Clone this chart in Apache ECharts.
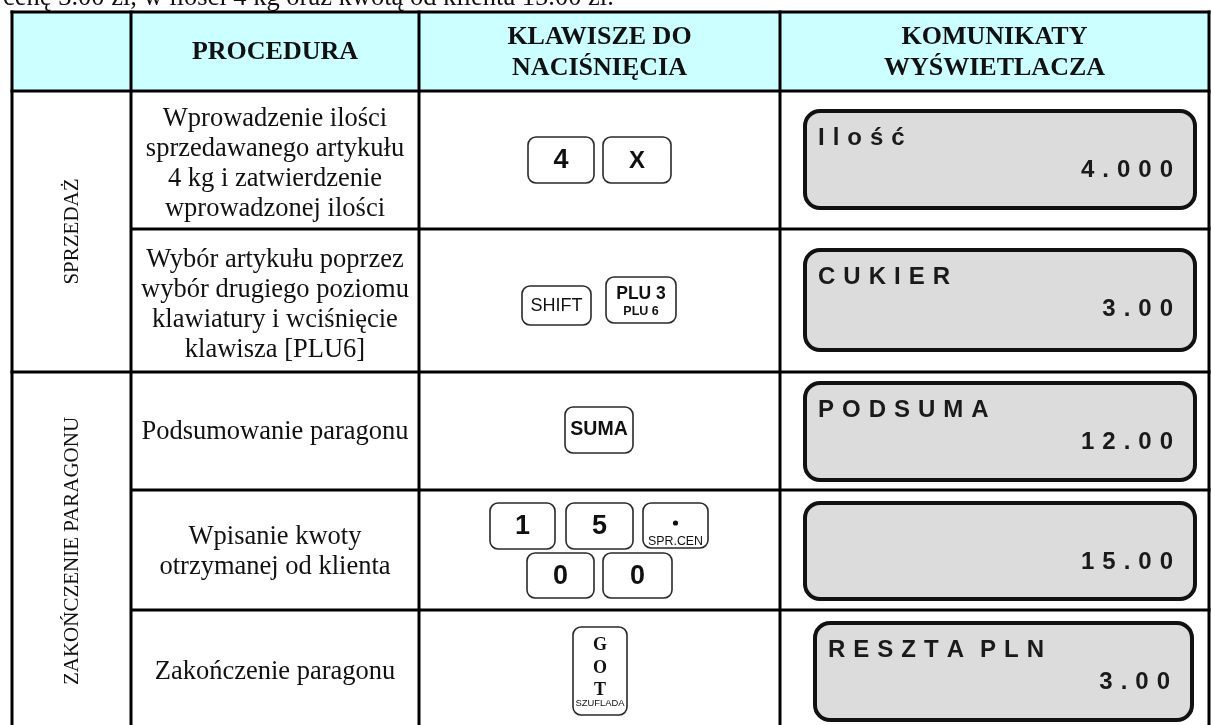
<!DOCTYPE html>
<html><head><meta charset="utf-8">
<script src="https://cdn.jsdelivr.net/npm/echarts@6/dist/echarts.min.js"></script>
<style>html,body{margin:0;padding:0;background:#fff}#c{width:1211px;height:725px}</style>
</head><body><div id="c"></div>
<script>
// ---------- data ----------
const introText = 'cenę 3.00 zł, w ilości 4 kg oraz kwotą od klienta 15.00 zł.';
const headers = ['', 'PROCEDURA', 'KLAWISZE DO\nNACIŚNIĘCIA', 'KOMUNIKATY\nWYŚWIETLACZA'];
const sections = ['SPRZEDAŻ', 'ZAKOŃCZENIE PARAGONU'];
const sectionRowCounts = [2, 3];
const procedures = [
  'Wprowadzenie ilości\nsprzedawanego artykułu\n4 kg i zatwierdzenie\nwprowadzonej ilości',
  'Wybór artykułu poprzez\nwybór drugiego poziomu\nklawiatury i wciśnięcie\nklawisza [PLU6]',
  'Podsumowanie paragonu',
  'Wpisanie kwoty\notrzymanej od klienta',
  'Zakończenie paragonu'
];
const keyLabels = [['4', 'X'], ['SHIFT', 'PLU 3'], ['SUMA'], ['1', '5', '.', '0', '0'], ['G\nO\nT']];
const keySubLabels = [['', ''], ['', 'PLU 6'], [''], ['', '', 'SPR.CEN', '', ''], ['SZUFLADA']];
const displayLabels = ['Ilość', 'CUKIER', 'PODSUMA', '', 'RESZTA PLN'];
const displayValues = ['4.000', '3.00', '12.00', '15.00', '3.00'];

// ---------- layout (pixel space of the identity axes) ----------
const W = 1211, H = 725;
const layout = {
  colX: [12, 131, 419, 780, 1209],
  headerY: [12, 91],
  rowY: [91, 229, 372, 490, 610, 730],
  procTextY: [164, 305, 432, 552, 672],
  keyBoxes: [
    [[528, 137, 66, 46], [603, 137, 68, 46]],
    [[522, 286, 69, 39], [606, 277, 70, 46]],
    [[565, 407, 68, 46]],
    [[490, 503, 65, 46], [566, 503, 67, 46], [643, 503, 65, 45], [527, 553, 67, 45], [603, 553, 69, 45]],
    [[573, 627, 54, 88]]
  ],
  displayBoxes: [[805, 111, 390, 97], [805, 250, 390, 100], [805, 383, 390, 97], [805, 503, 390, 96], [815, 623, 377, 97]]
};
const SERIF = '"Liberation Serif","Times New Roman",serif';
const SANS = '"Liberation Sans",Arial,sans-serif';
const INK = '#111';

function spaced(s) {
  return s.split('').map(c => c === ' ' ? '' : c).join('\u2004');
}

function txt(p, text, o) {
  return {
    type: 'text', x: p[0], y: p[1], rotation: o.rotation || 0, silent: true,
    style: {
      text: text, fill: o.fill || INK, fontFamily: o.family || SERIF,
      fontSize: o.size, fontWeight: o.weight || 'normal',
      align: o.align || 'center', verticalAlign: o.valign || 'middle',
      lineHeight: o.lineHeight || Math.round(o.size * 1.15)
    }
  };
}

function renderTable(params, api) {
  const P = (x, y) => api.coord([x, y]);
  const ch = [];
  const cx = layout.colX, ry = layout.rowY, hy = layout.headerY;
  // intro line (cut off at top)
  ch.push(txt(P(3, -2), introText, { size: 26.5, align: 'left' }));
  // header background
  const a = P(cx[0], hy[0]), b = P(cx[4], hy[1]);
  ch.push({ type: 'rect', shape: { x: a[0], y: a[1], width: b[0] - a[0], height: b[1] - a[1] }, style: { fill: '#CCFFFF' } });
  // header texts
  headers.forEach((h, i) => {
    if (!h) return;
    ch.push(txt(P((cx[i] + cx[i + 1]) / 2, (hy[0] + hy[1]) / 2 + 1), h, { size: 26, weight: 'bold', lineHeight: 31 }));
  });
  // section labels (vertical)
  let r = 0;
  sections.forEach((s, i) => {
    const y0 = ry[r], y1 = ry[r + sectionRowCounts[i]];
    r += sectionRowCounts[i];
    ch.push(txt(P((cx[0] + cx[1]) / 2 + 1, (y0 + y1) / 2), s, { size: 21, rotation: Math.PI / 2 }));
  });
  // lines
  const line = (x1, y1, x2, y2) => {
    const p1 = P(x1, y1), p2 = P(x2, y2);
    ch.push({ type: 'line', shape: { x1: p1[0], y1: p1[1], x2: p2[0], y2: p2[1] }, style: { stroke: '#000', lineWidth: 3 } });
  };
  cx.forEach(x => line(x, hy[0] - 1.5, x, ry[ry.length - 1]));
  line(cx[0] - 1.5, hy[0], cx[4] + 1.5, hy[0]);
  line(cx[0] - 1.5, hy[1], cx[4] + 1.5, hy[1]);
  // row separators
  let acc = 0; const sectionEnds = new Set();
  sectionRowCounts.forEach(n => { acc += n; sectionEnds.add(acc); });
  for (let i = 1; i < ry.length - 1; i++) {
    line(sectionEnds.has(i) ? cx[0] - 1.5 : cx[1], ry[i], cx[4] + 1.5, ry[i]);
  }
  return { type: 'group', children: ch };
}

function keyElements(P, label, sub, box) {
  const els = [];
  const p0 = P(box[0], box[1]), p1 = P(box[0] + box[2], box[1] + box[3]);
  const w = p1[0] - p0[0], h = p1[1] - p0[1];
  els.push({ type: 'rect', shape: { x: p0[0], y: p0[1], width: w, height: h, r: 8 }, style: { fill: '#fff', stroke: '#2a2a2a', lineWidth: 1.6 } });
  const cxk = p0[0] + w / 2;
  if (/^[0-9X]$/.test(label)) {
    els.push(txt([cxk, p0[1] + h / 2 + 1], label, { size: label === 'X' ? 24 : 27, weight: 'bold', family: SANS }));
  } else if (label === 'SHIFT') {
    els.push(txt([cxk, p0[1] + h / 2 + 1], label, { size: 18, family: SANS }));
  } else if (label === 'SUMA') {
    els.push(txt([cxk, p0[1] + h / 2], label, { size: 19.5, weight: 'bold', family: SANS }));
  } else if (label === 'PLU 3') {
    els.push(txt([cxk, p0[1] + 17], label, { size: 17.5, weight: 'bold', family: SANS }));
    els.push(txt([cxk, p0[1] + 35], sub, { size: 12.5, weight: 'bold', family: SANS }));
  } else if (label === '.') {
    els.push({ type: 'circle', shape: { cx: cxk, cy: p0[1] + 20, r: 2.6 }, style: { fill: '#111' } });
    els.push(txt([cxk, p0[1] + 39], sub, { size: 12.4, family: SANS }));
  } else {
    els.push(txt([cxk, p0[1] + 41], label, { size: 18, weight: 'bold', lineHeight: 22.5 }));
    els.push(txt([cxk, p0[1] + 76], sub, { size: 9.4, family: SANS }));
  }
  return els;
}

function renderRow(params, api) {
  const i = params.dataIndex;
  const P = (x, y) => api.coord([x, y]);
  const cx = layout.colX;
  const ch = [];
  ch.push(txt(P((cx[1] + cx[2]) / 2, layout.procTextY[i]), procedures[i], { size: 26.5, lineHeight: 30 }));
  keyLabels[i].forEach((k, j) => {
    keyElements(P, k, keySubLabels[i][j], layout.keyBoxes[i][j]).forEach(e => ch.push(e));
  });
  const d = layout.displayBoxes[i];
  const q0 = P(d[0], d[1]), q1 = P(d[0] + d[2], d[1] + d[3]);
  ch.push({ type: 'rect', shape: { x: q0[0], y: q0[1], width: q1[0] - q0[0], height: q1[1] - q0[1], r: 15 }, style: { fill: '#DCDCDC', stroke: '#111', lineWidth: 4 } });
  if (displayLabels[i]) {
    ch.push(txt([q0[0] + 13, q0[1] + 27], spaced(displayLabels[i]), { size: 24, weight: 'bold', family: SANS, align: 'left', fill: '#1a1a1a' }));
  }
  ch.push(txt([q1[0] - 22, q0[1] + 59], spaced(displayValues[i]), { size: 24, weight: 'bold', family: SANS, align: 'right', fill: '#1a1a1a' }));
  return { type: 'group', children: ch };
}

const chart = echarts.init(document.getElementById('c'), null, { renderer: 'canvas' });
chart.setOption({
  animation: false,
  backgroundColor: '#fff',
  grid: { left: 0, right: 0, top: 0, bottom: 0 },
  xAxis: { type: 'value', min: 0, max: W, show: false },
  yAxis: { type: 'value', min: 0, max: H, inverse: true, show: false },
  series: [
    { type: 'custom', silent: true, renderItem: renderTable, data: [[0, 0]], clip: false },
    { type: 'custom', silent: true, renderItem: renderRow, data: procedures.map((p, i) => [i, i]), clip: false }
  ]
});
</script></body></html>
